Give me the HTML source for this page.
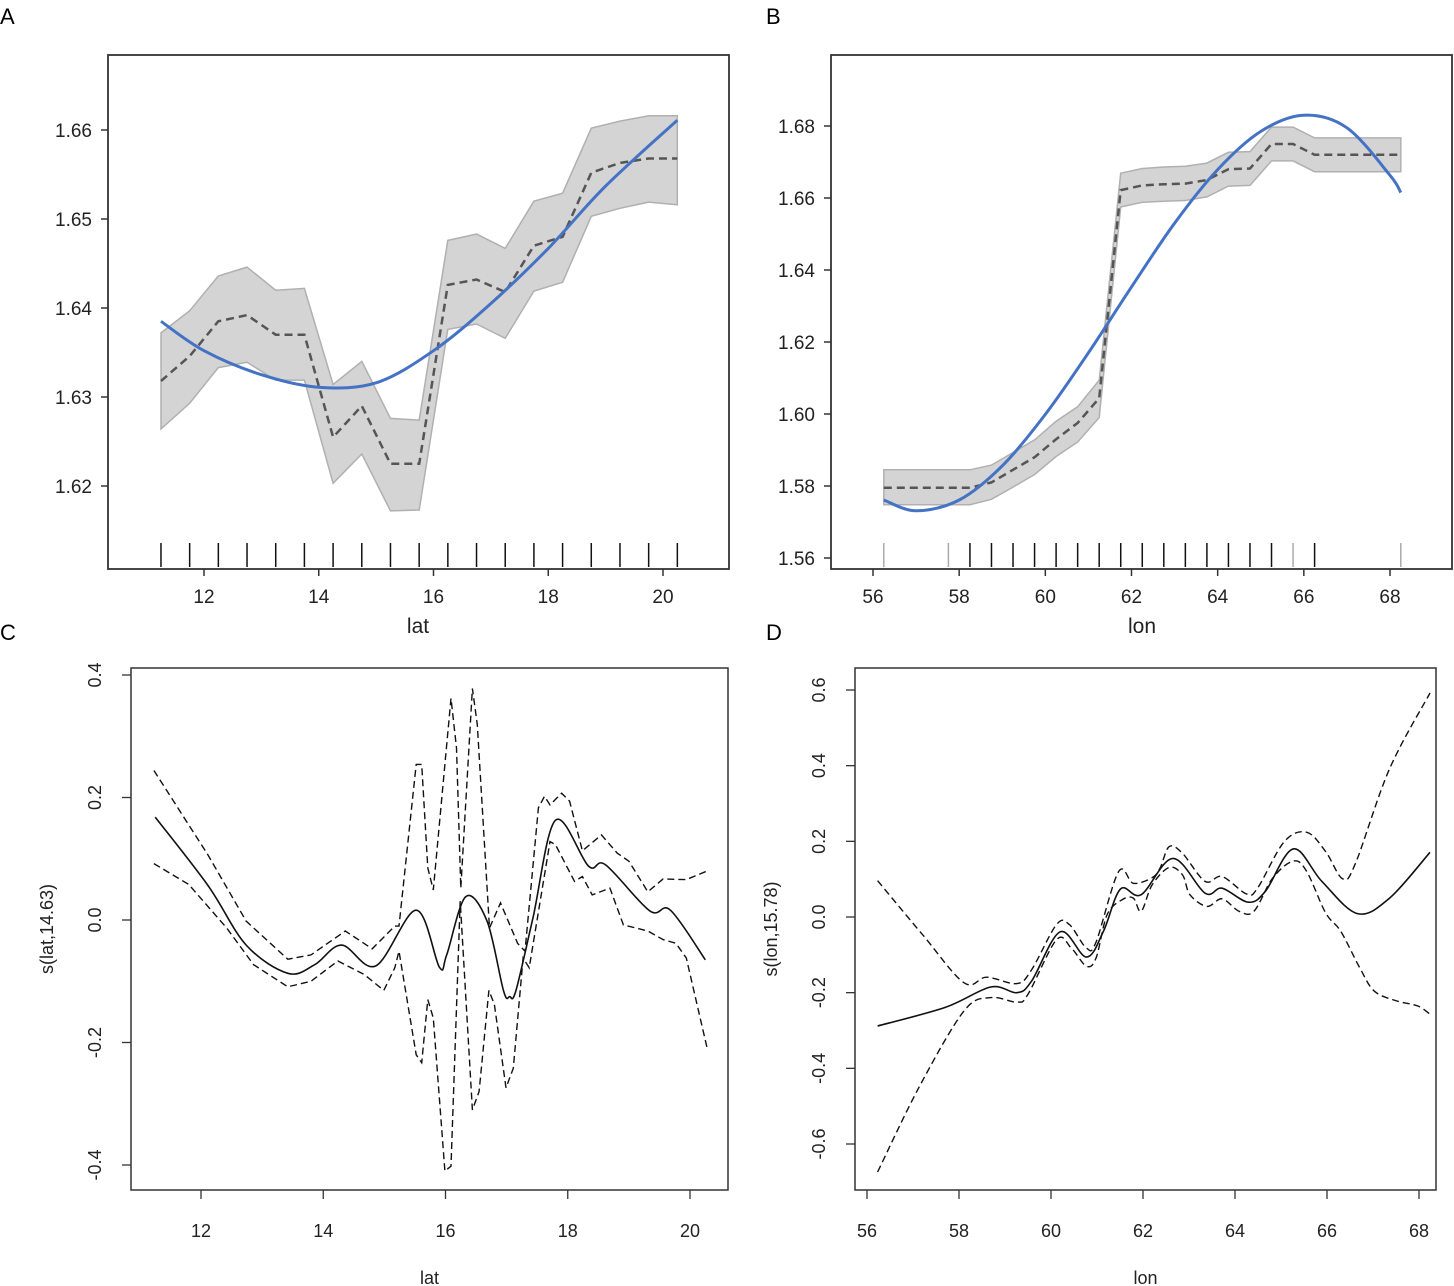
<!DOCTYPE html>
<html><head><meta charset="utf-8">
<style>
body{margin:0;background:#fff;}
svg{display:block;font-family:"Liberation Sans",sans-serif;}
</style></head>
<body>
<svg id="fig" width="1454" height="1286" viewBox="0 0 1454 1286" xmlns="http://www.w3.org/2000/svg">
<text x="0" y="24" font-size="22">A</text>
<text x="766" y="24" font-size="22">B</text>
<text x="0" y="640" font-size="22">C</text>
<text x="766" y="640" font-size="22">D</text>
</svg>
<script>
// ---------- Panel A data ----------
const aLat = [11.25,11.75,12.25,12.75,13.25,13.75,14.25,14.75,15.25,15.75,16.25,16.75,17.25,17.75,18.25,18.75,19.25,19.75,20.25];
const aMean = [1.6318,1.6346,1.6385,1.6392,1.6370,1.6370,1.6255,1.6290,1.6225,1.6225,1.6426,1.6432,1.6418,1.6470,1.6480,1.6552,1.6563,1.6568,1.6568];
const aUpper = [1.6372,1.6397,1.6436,1.6446,1.6420,1.6422,1.6314,1.6340,1.6276,1.6274,1.6476,1.6483,1.6467,1.6520,1.6529,1.6602,1.6610,1.6616,1.6616];
const aLower = [1.6264,1.6293,1.6333,1.6339,1.6319,1.6319,1.6203,1.6236,1.6172,1.6173,1.6376,1.6382,1.6366,1.6419,1.6429,1.6503,1.6512,1.6519,1.6516];
const aFitLat = [11.25,12,13,14,15,16,17,18,19,20.25];
const aFit = [1.6385,1.6352,1.6325,1.6311,1.6316,1.6352,1.6405,1.6467,1.6537,1.6611];
const aXTicks = [12,14,16,18,20];
const aYTicks = [1.62,1.63,1.64,1.65,1.66];
const aYLabels = ["1.62","1.63","1.64","1.65","1.66"];
// ---------- Panel B data ----------
const bLon = [56.25,57.75,58.25,58.75,59.25,59.75,60.25,60.75,61.25,61.75,62.25,62.75,63.25,63.75,64.25,64.75,65.25,65.75,66.25,66.75,68.25];
const bMean = [1.5795,1.5795,1.5795,1.5810,1.5845,1.5880,1.5930,1.5975,1.6044,1.6622,1.6635,1.6638,1.6640,1.6650,1.6680,1.6682,1.6750,1.6750,1.6720,1.6720,1.6720];
const bUpper = [1.5845,1.5845,1.5845,1.5858,1.5893,1.5928,1.5980,1.6020,1.6094,1.6669,1.6682,1.6686,1.6688,1.6697,1.6727,1.6729,1.6797,1.6797,1.6767,1.6767,1.6767];
const bLower = [1.5748,1.5748,1.5748,1.5763,1.5797,1.5832,1.5882,1.5922,1.5990,1.6575,1.6588,1.6591,1.6593,1.6603,1.6633,1.6635,1.6703,1.6703,1.6673,1.6673,1.6673];
const bFitLon = [56.25,57,58,59,60,61,62,63,64,65,66,67,68,68.25];
const bFit = [1.5761,1.5731,1.5761,1.5856,1.5999,1.6170,1.6353,1.6530,1.6679,1.6785,1.6830,1.6795,1.6663,1.6615];
const bRug = [56.25,57.75,58.25,58.75,59.25,59.75,60.25,60.75,61.25,61.75,62.25,62.75,63.25,63.75,64.25,64.75,65.25,65.75,66.25,68.25];
const bRugGray = [true,true,false,false,false,false,false,false,false,false,false,false,false,false,false,false,false,true,false,true];
const bXTicks = [56,58,60,62,64,66,68];
const bYTicks = [1.56,1.58,1.60,1.62,1.64,1.66,1.68];
const bYLabels = ["1.56","1.58","1.60","1.62","1.64","1.66","1.68"];
// ---------- Panel C data ----------
const cFitLat = [11.25,12.11,12.74,13.42,13.86,14.30,14.86,15.52,15.90,16.02,16.33,16.68,16.95,17.05,17.15,17.43,17.80,18.34,18.62,19.34,19.68,20.25];
const cFit = [0.168,0.057,-0.041,-0.087,-0.073,-0.041,-0.075,0.016,-0.077,-0.057,0.038,-0.002,-0.116,-0.125,-0.116,0.003,0.163,0.088,0.090,0.015,0.016,-0.065];
const cUpLat = [11.23,12.11,12.74,13.42,13.80,14.36,14.80,15.17,15.24,15.52,15.61,15.71,15.80,16.09,16.18,16.25,16.44,16.52,16.72,16.90,17.18,17.30,17.52,17.62,17.71,17.90,18.03,18.24,18.55,18.81,19.00,19.31,19.56,19.94,20.28];
const cUp = [0.244,0.107,-0.002,-0.064,-0.057,-0.018,-0.047,-0.010,-0.010,0.254,0.254,0.085,0.049,0.362,0.281,0.052,0.378,0.319,-0.013,0.028,-0.038,-0.051,0.183,0.202,0.188,0.207,0.194,0.113,0.139,0.109,0.096,0.046,0.067,0.066,0.080];
const cLoLat = [11.23,11.80,12.42,12.86,13.42,13.80,14.24,14.67,14.99,15.17,15.24,15.52,15.61,15.71,15.80,15.99,16.09,16.24,16.44,16.55,16.71,16.80,16.99,17.11,17.27,17.37,17.71,17.80,18.11,18.24,18.40,18.69,18.91,19.31,19.56,19.77,19.94,20.28];
const cLo = [0.092,0.058,-0.013,-0.073,-0.109,-0.100,-0.067,-0.089,-0.115,-0.078,-0.051,-0.220,-0.233,-0.130,-0.160,-0.410,-0.402,0.031,-0.310,-0.280,-0.115,-0.138,-0.274,-0.242,-0.062,-0.078,0.128,0.123,0.063,0.071,0.041,0.052,-0.008,-0.018,-0.032,-0.038,-0.062,-0.209];
const cXTicks = [12,14,16,18,20];
const cYTicks = [-0.4,-0.2,0,0.2,0.4];
const cYLabels = ["-0.4","-0.2","0.0","0.2","0.4"];
// ---------- Panel D data ----------
const dFitLon = [56.23,57.70,58.69,59.26,59.58,60.20,60.77,61.14,61.51,61.96,62.65,63.35,63.72,64.29,64.66,65.27,65.89,66.66,67.36,68.24];
const dFit = [-0.288,-0.239,-0.185,-0.200,-0.169,-0.039,-0.106,-0.038,0.074,0.059,0.155,0.063,0.076,0.039,0.068,0.180,0.094,0.009,0.050,0.171];
const dUpLon = [56.23,57.21,58.11,58.60,59.26,59.58,60.12,60.40,60.77,60.98,61.47,61.79,62.20,62.37,62.57,62.86,63.35,63.72,64.25,64.49,65.07,65.56,65.97,66.34,66.62,67.36,68.24];
const dUp = [0.096,-0.047,-0.174,-0.159,-0.176,-0.139,-0.020,-0.020,-0.082,-0.066,0.120,0.089,0.104,0.129,0.186,0.168,0.094,0.107,0.061,0.076,0.199,0.224,0.173,0.101,0.142,0.392,0.592];
const dLoLon = [56.23,57.13,58.11,58.69,59.26,59.50,60.12,60.44,60.77,60.98,61.22,61.55,61.79,61.96,62.20,62.57,62.86,63.02,63.39,63.72,64.09,64.41,64.82,65.27,65.56,65.97,66.30,66.71,67.03,67.52,67.97,68.24];
const dLo = [-0.674,-0.450,-0.248,-0.213,-0.225,-0.204,-0.060,-0.082,-0.130,-0.108,0.006,0.046,0.050,0.015,0.085,0.131,0.111,0.059,0.028,0.048,0.015,0.015,0.103,0.148,0.120,0.011,-0.038,-0.134,-0.196,-0.222,-0.235,-0.257];
const dXTicks = [56,58,60,62,64,66,68];
const dYTicks = [-0.6,-0.4,-0.2,0,0.2,0.4,0.6];
const dYLabels = ["-0.6","-0.4","-0.2","0.0","0.2","0.4","0.6"];

const NS = "http://www.w3.org/2000/svg";
const svg = document.getElementById('fig');
function mk(tag, attrs, parent){
  const e = document.createElementNS(NS, tag);
  for (const k in attrs) e.setAttribute(k, attrs[k]);
  (parent||svg).appendChild(e);
  return e;
}
function scale(d0,d1,p0,p1){ return v => p0 + (v-d0)/(d1-d0)*(p1-p0); }
function smooth(pts){
  let d = 'M'+pts[0][0].toFixed(1)+','+pts[0][1].toFixed(1);
  for (let i=0;i<pts.length-1;i++){
    const p0=pts[Math.max(0,i-1)],p1=pts[i],p2=pts[i+1],p3=pts[Math.min(pts.length-1,i+2)];
    const c1=[p1[0]+(p2[0]-p0[0])/6,p1[1]+(p2[1]-p0[1])/6];
    const c2=[p2[0]-(p3[0]-p1[0])/6,p2[1]-(p3[1]-p1[1])/6];
    d+=' C'+c1[0].toFixed(1)+','+c1[1].toFixed(1)+' '+c2[0].toFixed(1)+','+c2[1].toFixed(1)+' '+p2[0].toFixed(1)+','+p2[1].toFixed(1);
  }
  return d;
}
function poly(pts){ return 'M'+pts.map(p=>p[0].toFixed(1)+','+p[1].toFixed(1)).join(' L'); }
function zip(xs,ys,sx,sy){ return xs.map((x,i)=>[sx(x),sy(ys[i])]); }

// ===== Panel A =====
(function(){
  const L=108,R=729,T=55,B=569;
  const sx=scale(12,20,204,663), sy=scale(1.62,1.66,486,130);
  const g=mk('g',{});
  
  
  const up=zip(aLat,aUpper,sx,sy), lo=zip(aLat,aLower,sx,sy).reverse();
  const band=mk('path',{d:poly(up.concat(lo))+' Z',fill:'#d4d4d4',stroke:'#b0b0b0','stroke-width':1.5},g);
  
  
  const ml=mk('path',{d:poly(zip(aLat,aMean,sx,sy)),fill:'none',stroke:'#555','stroke-width':2.5,'stroke-dasharray':'8,5'},g);
  
  
  const fl=mk('path',{d:smooth(zip(aFitLat,aFit,sx,sy)),fill:'none',stroke:'#4472c4','stroke-width':3},g);
  
  
  aLat.forEach(v=>{
    const r=mk('line',{x1:sx(v),x2:sx(v),y1:543,y2:567,stroke:'#111','stroke-width':1.5},g);
    
    
  });
  const box=mk('rect',{x:L,y:T,width:R-L,height:B-T,fill:'none',stroke:'#333','stroke-width':1.8},g);
  
  
  aXTicks.forEach(v=>{
    mk('line',{x1:sx(v),x2:sx(v),y1:B,y2:B+7,stroke:'#333','stroke-width':1.5},g);
    const t=mk('text',{x:sx(v),y:603,'font-size':19,'text-anchor':'middle',fill:'#222'},g);
    t.textContent=v;
    
    
  });
  aYTicks.forEach((v,i)=>{
    mk('line',{x1:L-7,x2:L,y1:sy(v),y2:sy(v),stroke:'#333','stroke-width':1.5},g);
    const t=mk('text',{x:92,y:sy(v)+7,'font-size':19,'text-anchor':'end',fill:'#222'},g);
    t.textContent=aYLabels[i];
    
    
  });
  const xt=mk('text',{x:418,y:633,'font-size':21,'text-anchor':'middle',fill:'#222'},g);
  xt.textContent='lat';
  
  
})();

// ===== Panel B =====
(function(){
  const L=831,R=1452,T=55,B=569;
  const sx=scale(56,68,873,1390), sy=scale(1.56,1.68,558,126);
  const g=mk('g',{});
  
  
  const up=zip(bLon,bUpper,sx,sy), lo=zip(bLon,bLower,sx,sy).reverse();
  const band=mk('path',{d:poly(up.concat(lo))+' Z',fill:'#d4d4d4',stroke:'#b0b0b0','stroke-width':1.5},g);
  
  
  const ml=mk('path',{d:poly(zip(bLon,bMean,sx,sy)),fill:'none',stroke:'#555','stroke-width':2.5,'stroke-dasharray':'8,5'},g);
  
  
  const fl=mk('path',{d:smooth(zip(bFitLon,bFit,sx,sy)),fill:'none',stroke:'#4472c4','stroke-width':3},g);
  
  
  bRug.forEach((v,i)=>{
    const r=mk('line',{x1:sx(v),x2:sx(v),y1:543,y2:567,stroke:bRugGray[i]?'#aaa':'#111','stroke-width':1.5},g);
    
    
  });
  const box=mk('rect',{x:L,y:T,width:R-L,height:B-T,fill:'none',stroke:'#333','stroke-width':1.8},g);
  
  
  bXTicks.forEach(v=>{
    mk('line',{x1:sx(v),x2:sx(v),y1:B,y2:B+7,stroke:'#333','stroke-width':1.5},g);
    const t=mk('text',{x:sx(v),y:603,'font-size':19,'text-anchor':'middle',fill:'#222'},g);
    t.textContent=v;
    
    
  });
  bYTicks.forEach((v,i)=>{
    mk('line',{x1:L-7,x2:L,y1:sy(v),y2:sy(v),stroke:'#333','stroke-width':1.5},g);
    const t=mk('text',{x:815,y:sy(v)+7,'font-size':19,'text-anchor':'end',fill:'#222'},g);
    t.textContent=bYLabels[i];
    
    
  });
  const xt=mk('text',{x:1142,y:633,'font-size':21,'text-anchor':'middle',fill:'#222'},g);
  xt.textContent='lon';
  
  
})();

// ===== Panels C & D =====
function gamPanel(cfg){
  const {L,R,T,B,sx,sy,fitX,fitY,upX,upY,loX,loY,xt,yt,ylab,title,xlab,ylx,ytx,name,sharp}=cfg;
  const g=mk('g',{});
  
  
  const cp=mk('clipPath',{id:name+'-clip'},g);
  mk('rect',{x:L,y:T,width:R-L,height:B-T},cp);
  const inner=mk('g',{'clip-path':'url(#'+name+'-clip)'},g);
  const lineFn = sharp ? poly : smooth;
  const u=mk('path',{d:lineFn(zip(upX,upY,sx,sy)),fill:'none',stroke:'#111','stroke-width':1.4,'stroke-dasharray':'7,4'},inner);
  
  
  const l=mk('path',{d:lineFn(zip(loX,loY,sx,sy)),fill:'none',stroke:'#111','stroke-width':1.4,'stroke-dasharray':'7,4'},inner);
  
  
  const f=mk('path',{d:smooth(zip(fitX,fitY,sx,sy)),fill:'none',stroke:'#111','stroke-width':1.6},inner);
  
  
  const box=mk('rect',{x:L,y:T,width:R-L,height:B-T,fill:'none',stroke:'#333','stroke-width':1.5},g);
  
  
  xt.forEach(v=>{
    mk('line',{x1:sx(v),x2:sx(v),y1:B,y2:B+9,stroke:'#333','stroke-width':1.3},g);
    const t=mk('text',{x:sx(v),y:1237,'font-size':18,'text-anchor':'middle',fill:'#222'},g);
    t.textContent=v;
    
    
  });
  yt.forEach((v,i)=>{
    mk('line',{x1:L-9,x2:L,y1:sy(v),y2:sy(v),stroke:'#333','stroke-width':1.3},g);
    const t=mk('text',{x:ylx,y:sy(v),'font-size':18,'text-anchor':'middle',fill:'#222',transform:'rotate(-90 '+ylx+' '+sy(v)+')'},g);
    t.textContent=ylab[i];
    
    
  });
  const xtl=mk('text',{x:(L+R)/2,y:1284,'font-size':18,'text-anchor':'middle',fill:'#222'},g);
  xtl.textContent=xlab;
  
  
  const cy=(T+B)/2;
  const ytl=mk('text',{x:ytx,y:cy,'font-size':18,'text-anchor':'middle',fill:'#222',transform:'rotate(-90 '+ytx+' '+cy+')'},g);
  ytl.textContent=title;
  
  
}
gamPanel({name:'panel-c',sharp:true,L:131,R:728,T:668,B:1190,
  sx:scale(12,20,201,690), sy:scale(0,0.4,920,675),
  fitX:cFitLat,fitY:cFit,upX:cUpLat,upY:cUp,loX:cLoLat,loY:cLo,
  xt:cXTicks,yt:cYTicks,ylab:cYLabels,title:'s(lat,14.63)',xlab:'lat',ylx:101,ytx:53});
gamPanel({name:'panel-d',sharp:false,L:855,R:1436,T:668,B:1190,
  sx:scale(56,68,867,1419), sy:scale(0,0.6,917,690),
  fitX:dFitLon,fitY:dFit,upX:dUpLon,upY:dUp,loX:dLoLon,loY:dLo,
  xt:dXTicks,yt:dYTicks,ylab:dYLabels,title:'s(lon,15.78)',xlab:'lon',ylx:825,ytx:777});
</script>
</body></html>
